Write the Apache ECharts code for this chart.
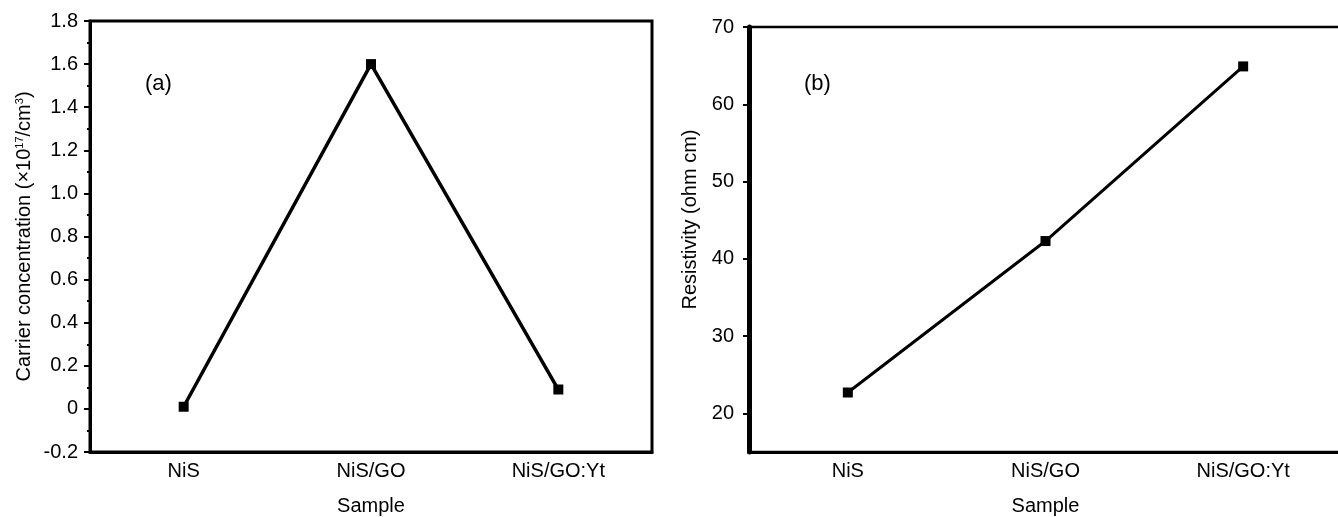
<!DOCTYPE html>
<html>
<head>
<meta charset="utf-8">
<script src="https://cdn.jsdelivr.net/npm/echarts@6/dist/echarts.min.js"></script>
<style>
  html, body { margin: 0; padding: 0; background: #fff; }
  #chart { width: 1338px; height: 517px; }
</style>
</head>
<body>
<div id="chart"></div>
<script>
// Sample names shared by both panels
const samples = ['NiS', 'NiS/GO', 'NiS/GO:Yt'];
// (a) carrier concentration, ×10^17 /cm^3
const carrierConc = [0.01, 1.6, 0.09];
// (b) resistivity, ohm cm
const resistivity = [22.7, 42.3, 64.9];
// Tick values for the resistivity axis
const resistTicks = [20, 30, 40, 50, 60, 70];

const FONT = 'Liberation Sans, Arial, Helvetica, sans-serif';
const INK = '#000';

function catAxes(grid, lineW) {
  return [
    {
      type: 'category', gridIndex: grid, data: samples, boundaryGap: true,
      axisLine: { onZero: false, lineStyle: { color: INK, width: lineW } },
      axisTick: { alignWithLabel: true, length: 6, lineStyle: { color: INK, width: 2 } },
      axisLabel: { color: INK, fontFamily: FONT, fontSize: 20, margin: 9 },
      name: 'Sample', nameLocation: 'middle', nameGap: 44,
      nameTextStyle: { color: INK, fontFamily: FONT, fontSize: 20 },
      splitLine: { show: false }
    },
    {
      // short ticks on the boundaries between samples
      type: 'category', gridIndex: grid, data: samples, boundaryGap: true,
      position: 'bottom',
      axisLine: { show: false, onZero: false },
      axisTick: { length: 3, lineStyle: { color: INK, width: 2 } },
      axisLabel: { show: false },
      splitLine: { show: false }
    }
  ];
}

const chart = echarts.init(document.getElementById('chart'), null, { renderer: 'canvas' });

chart.setOption({
  backgroundColor: '#fff',
  animation: false,
  grid: [
    { left: 90, top: 21, width: 562, height: 431, outerBoundsMode: 'none', containLabel: false,
      show: true, borderColor: INK, borderWidth: 3, backgroundColor: 'transparent' },
    { left: 749, top: 27, width: 593, height: 425, outerBoundsMode: 'none', containLabel: false,
      show: true, borderColor: INK, borderWidth: 2.5, backgroundColor: 'transparent' }
  ],
  xAxis: [...catAxes(0, 3), ...catAxes(1, 3)],
  yAxis: [
    {
      type: 'value', gridIndex: 0, min: -0.2, max: 1.8, interval: 0.2,
      axisLine: { show: true, lineStyle: { color: INK, width: 3 } },
      axisTick: { show: true, length: 6, lineStyle: { color: INK, width: 2 } },
      minorTick: { show: true, splitNumber: 2, length: 3, lineStyle: { color: INK, width: 2 } },
      axisLabel: {
        color: INK, fontFamily: FONT, fontSize: 20, margin: 12,
        formatter: v => (Math.abs(v) < 1e-9 ? '0' : v.toFixed(1))
      },
      splitLine: { show: false },
      name: '{t|Carrier concentration (×10}{s|17}{t|/cm}{s|3}{t|)}',
      nameLocation: 'middle', nameGap: 55, nameRotate: 90,
      nameTextStyle: {
        rich: {
          t: { color: INK, fontFamily: FONT, fontSize: 20 },
          s: { color: INK, fontFamily: FONT, fontSize: 11, verticalAlign: 'top', padding: [0, 0, 10, 0] }
        }
      }
    },
    {
      type: 'value', gridIndex: 1, min: 15, max: 70,
      axisLine: { show: true, lineStyle: { color: INK, width: 5 } },
      axisTick: { show: true, length: 6, customValues: resistTicks, lineStyle: { color: INK, width: 2 } },
      axisLabel: { color: INK, fontFamily: FONT, fontSize: 20, margin: 15, customValues: resistTicks },
      splitLine: { show: false },
      name: 'Resistivity (ohm cm)', nameLocation: 'middle', nameGap: 49, nameRotate: 90,
      nameTextStyle: { color: INK, fontFamily: FONT, fontSize: 20, padding: [0, 0, 0, 40] }
    }
  ],
  graphic: [
    { type: 'text', left: 145, top: 73, style: { text: '(a)', font: '22px ' + FONT, fill: INK } },
    { type: 'text', left: 804, top: 73, style: { text: '(b)', font: '22px ' + FONT, fill: INK } }
  ],
  series: [
    {
      type: 'line', xAxisIndex: 0, yAxisIndex: 0, data: carrierConc,
      symbol: 'rect', symbolSize: 10,
      lineStyle: { color: INK, width: 3.5 }, itemStyle: { color: INK }
    },
    {
      type: 'line', xAxisIndex: 2, yAxisIndex: 1, data: resistivity,
      symbol: 'rect', symbolSize: 10,
      lineStyle: { color: INK, width: 3 }, itemStyle: { color: INK }
    }
  ]
});
</script>
</body>
</html>
